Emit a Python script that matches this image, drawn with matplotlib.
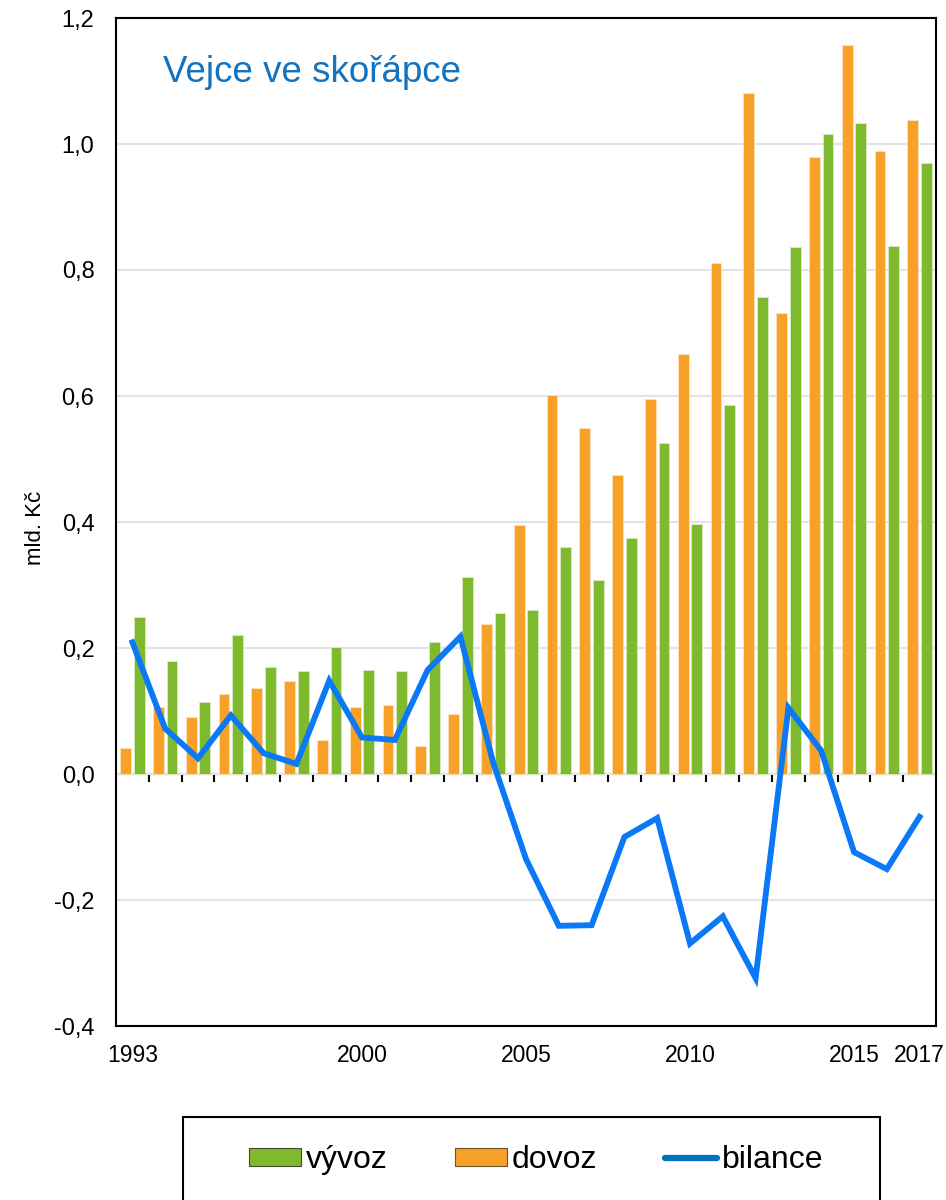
import numpy as np
import matplotlib
matplotlib.use("Agg")
import matplotlib.pyplot as plt
from matplotlib.patches import Patch, Rectangle
from matplotlib.lines import Line2D

plt.rcParams['font.family'] = ['Liberation Sans', 'DejaVu Sans']

# data (mld. Kč)
years = list(range(1993, 2018))
vyvoz = [0.250, 0.180, 0.115, 0.220, 0.170, 0.164, 0.202, 0.165, 0.164, 0.210,
         0.313, 0.256, 0.261, 0.360, 0.308, 0.375, 0.525, 0.397, 0.585, 0.757,
         0.836, 1.016, 1.033, 0.838, 0.970]
dovoz = [0.041, 0.107, 0.091, 0.127, 0.137, 0.148, 0.054, 0.107, 0.110, 0.045,
         0.095, 0.238, 0.396, 0.601, 0.549, 0.475, 0.595, 0.666, 0.811, 1.081,
         0.731, 0.979, 1.157, 0.989, 1.038]
bilance = [0.209, 0.072, 0.025, 0.093, 0.033, 0.016, 0.148, 0.058, 0.054, 0.165,
           0.218, 0.018, -0.135, -0.241, -0.240, -0.100, -0.070, -0.269, -0.226, -0.324,
           0.105, 0.037, -0.124, -0.151, -0.068]
tick_years = [1993, 2000, 2005, 2010, 2015, 2017]

green = '#7fba2e'
orange = '#f8a128'
blue = '#0b78f5'

fig = plt.figure(figsize=(9.46, 12), dpi=100)
ax = fig.add_axes([116/946, 1 - 1026/1200, 820/946, 1008/1200])

x = np.array(years)
w = 0.33
ax.bar(x - 0.205, dovoz, width=w, color=orange, edgecolor='#fde3bf', linewidth=0.6, zorder=2)
ax.bar(x + 0.205, vyvoz, width=w, color=green, edgecolor='#d9ecc0', linewidth=0.6, zorder=2)
ax.plot(x, bilance, color=blue, lw=4.2, solid_joinstyle='miter', zorder=4)

ax.set_xlim(1992.5, 2017.5)
ax.set_ylim(-0.4, 1.2)
ax.set_yticks(np.arange(-0.4, 1.21, 0.2))
ax.set_yticklabels([f"{v:.1f}".replace('.', ',') for v in np.arange(-0.4, 1.21, 0.2)])
ax.yaxis.grid(True, color='#e3e3e3', lw=1.5, zorder=0)
ax.set_axisbelow(True)
ax.tick_params(axis='y', length=0, pad=15.5, labelsize=17)
ax.set_xticks(tick_years)
ax.set_xticklabels([str(t) for t in tick_years])
ax.tick_params(axis='x', length=0, pad=13, labelsize=16.5)
for s in ax.spines.values():
    s.set_linewidth(1.5)
    s.set_color('black')

# zero line with category separators
zero = ax.secondary_xaxis(0.4 / 1.6)
zero.spines['bottom'].set_linewidth(1.5)
zero.set_xticks(np.arange(1993.5, 2017, 1.0))
zero.set_xticklabels([])
zero.tick_params(axis='x', direction='out', length=6, width=1.5)

ax.set_ylabel('mld. Kč', fontsize=16)
ax.yaxis.set_label_coords(-70/820, 0.5 - (528 - 522)/1008)

ax.text(163/946, 1 - 82/1200, 'Vejce ve skořápce', transform=fig.transFigure,
        fontsize=26.5, color='#1273c0', va='baseline', ha='left')

# legend box running off the bottom edge
fig.patches.append(Rectangle((183/946, -0.05), (880 - 183)/946, 0.05 + 1 - 1117/1200,
                             transform=fig.transFigure, fill=False, edgecolor='black', lw=1.5))
handles = [Patch(facecolor=green, edgecolor='#3f4a30', lw=0.8),
           Patch(facecolor=orange, edgecolor='#6b5530', lw=0.8),
           Line2D([], [], color='#0070c0', lw=4.5, solid_capstyle='round')]
fig.legend(handles, ['vývoz', 'dovoz', 'bilance'], loc='center', ncol=3,
           bbox_to_anchor=(536/946, 1 - 1160/1200), frameon=False, fontsize=23,
           handlelength=1.63, handleheight=0.48, handletextpad=0.16, columnspacing=2.1)

fig.savefig('out.png', dpi=100)
